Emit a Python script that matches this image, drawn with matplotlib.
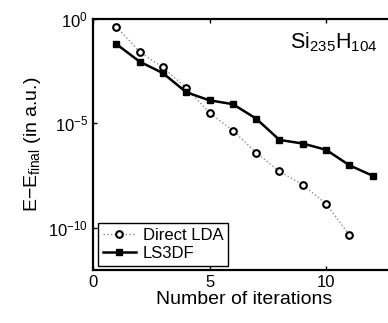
import matplotlib
matplotlib.use("Agg")
import matplotlib.pyplot as plt
import numpy as np

# energy error per SCF iteration (log10 values)
iters_lda = [1, 2, 3, 4, 5, 6, 7, 8, 9, 10, 11]
log_err_lda = [-0.38, -1.58, -2.33, -3.30, -4.50, -5.34, -6.40, -7.29, -7.93, -8.84, -10.33]

iters_ls3df = [1, 2, 3, 4, 5, 6, 7, 8, 9, 10, 11, 12]
log_err_ls3df = [-1.21, -2.05, -2.60, -3.51, -3.90, -4.08, -4.77, -5.79, -5.96, -6.26, -7.00, -7.50]

x_ticks = [0, 5, 10]
y_ticks = [1e-10, 1e-5, 1e0]

plt.rcParams['font.family'] = ['Liberation Sans', 'DejaVu Sans']
plt.rcParams['mathtext.fontset'] = 'custom'
plt.rcParams['mathtext.rm'] = 'Liberation Sans'
plt.rcParams['mathtext.it'] = 'Liberation Sans'
plt.rcParams['mathtext.default'] = 'regular'

fig = plt.figure(figsize=(3.88, 3.23), dpi=100)
ax = fig.add_axes([93 / 388, 53 / 323, 303 / 388, 251.3 / 323])

ax.semilogy(iters_lda, 10 ** np.array(log_err_lda), linestyle=':', color='0.55', lw=1,
            marker='o', ms=4.8, mfc='white', mec='black', mew=1.5, label='Direct LDA')
ax.semilogy(iters_ls3df, 10 ** np.array(log_err_ls3df), linestyle='-', color='black', lw=1.8,
            marker='s', ms=5, mfc='black', mec='black', label='LS3DF')

ax.set_xlim(0, 13)
ax.set_ylim(1e-12, 1)
ax.set_xticks(x_ticks)
ax.set_yticks(y_ticks)
ax.minorticks_off()
ax.tick_params(direction='in', length=3, width=1, labelsize=12, top=True, right=False)

for side in ['left', 'bottom', 'top']:
    ax.spines[side].set_linewidth(1.6)
ax.spines['right'].set_visible(False)

ax.set_xlabel('Number of iterations', fontsize=14, labelpad=1)
ax.set_ylabel('E$-$E$_{final}$ (in a.u.)', fontsize=14, labelpad=4)

ax.text(0.94, 0.955, 'Si$_{235}$H$_{104}$', transform=ax.transAxes, ha='right', va='top', fontsize=15.5)

leg = ax.legend(loc='lower left', bbox_to_anchor=(0.015, 0.016), borderaxespad=0, fontsize=12,
                fancybox=False, edgecolor='black', framealpha=1, handlelength=2,
                handletextpad=0.4, borderpad=0.3, labelspacing=0.2)
leg.get_frame().set_linewidth(1.0)

fig.savefig('out.png', dpi=100)
